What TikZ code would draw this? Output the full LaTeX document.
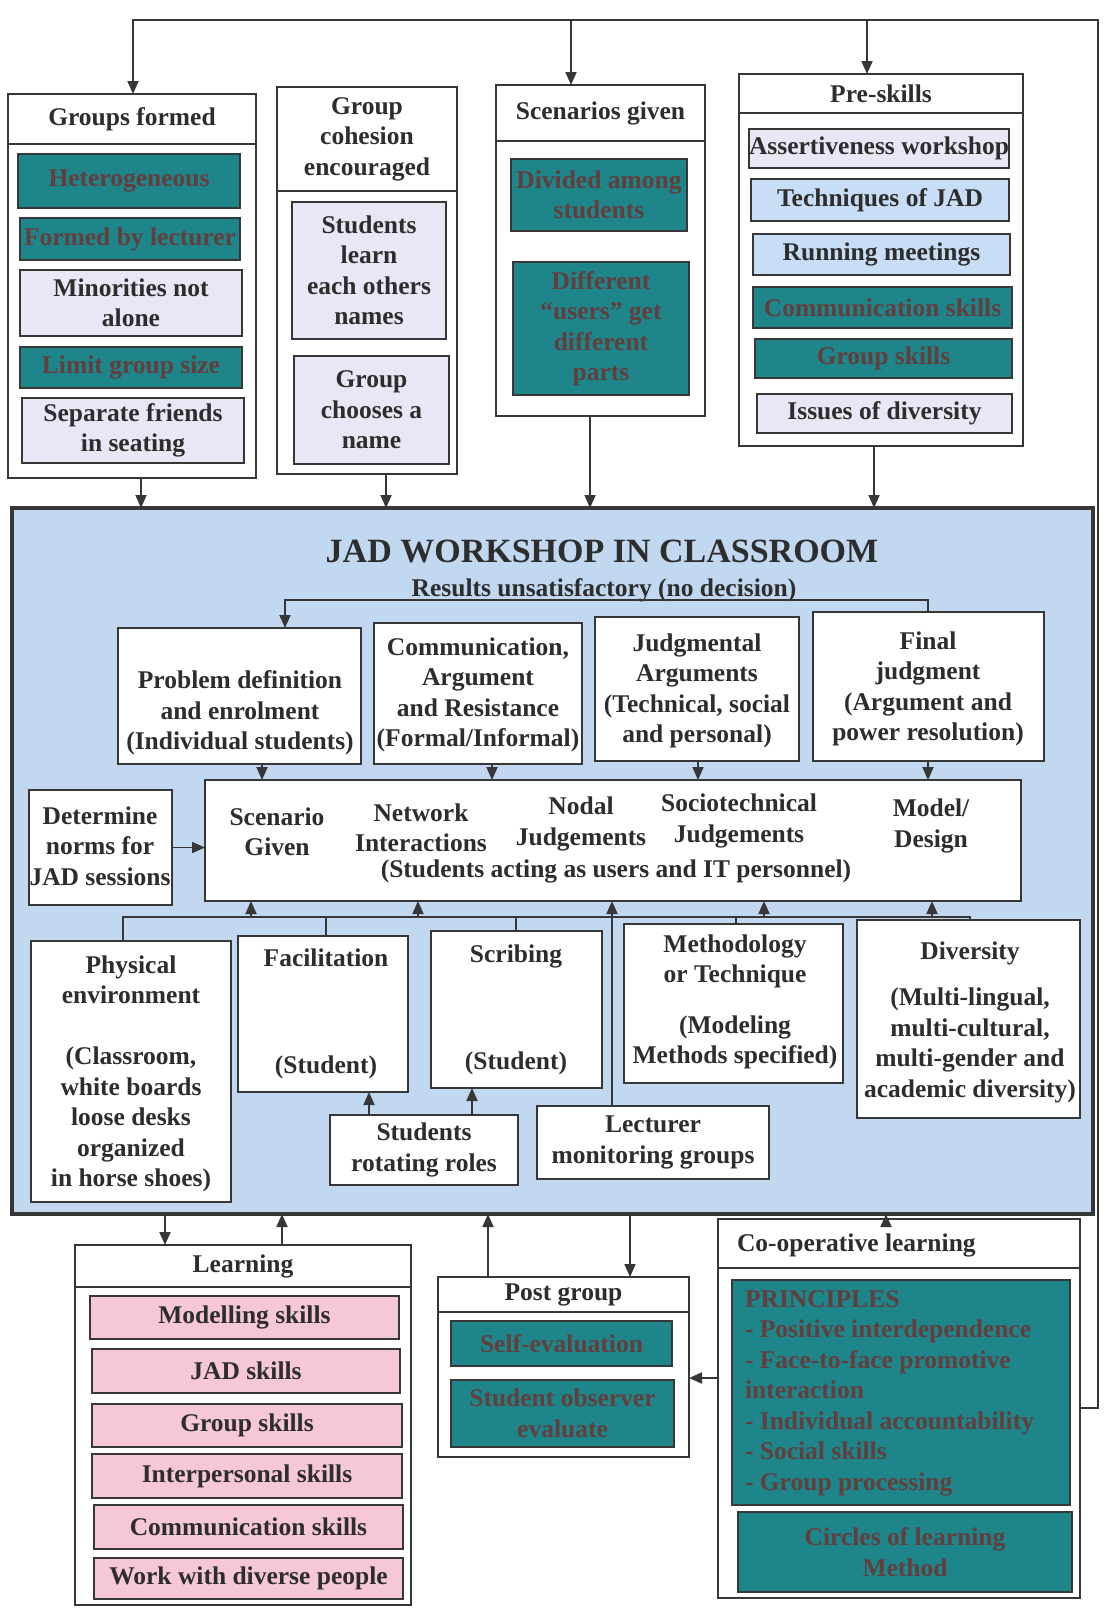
\documentclass[tikz,border=0pt]{standalone}
\usepackage{fontspec}
\setmainfont{Liberation Serif}
\usetikzlibrary{arrows.meta,fit}
\definecolor{lc}{RGB}{55,55,55}
\definecolor{txc}{RGB}{45,45,45}
\definecolor{tealf}{RGB}{30,133,138}
\definecolor{tealtx}{RGB}{98,62,60}
\definecolor{lavf}{RGB}{232,231,245}
\definecolor{bluef}{RGB}{200,222,246}
\definecolor{jadf}{RGB}{193,216,240}
\definecolor{pinkf}{RGB}{246,200,214}
\begin{document}
\begin{tikzpicture}[x=1pt,y=-1pt,
  every node/.style={inner sep=0pt, outer sep=0pt},
  font=\fontsize{25.5}{30.5}\selectfont\bfseries,
  box/.style={draw=lc, line width=1.8pt, fill=white},
  tbox/.style={box, fill=tealf},
  lbox/.style={box, fill=lavf},
  bbox/.style={box, fill=bluef},
  pbox/.style={box, fill=pinkf},
  txt/.style={align=center, text=txc},
  ttxt/.style={align=center, text=tealtx},
  arr/.style={draw=lc, line width=1.8pt, -{Triangle[length=13pt,width=11pt]}},
  ln/.style={draw=lc, line width=1.8pt}]

\path[use as bounding box, fill=white] (0,0) rectangle (1109,1609);

% ---------------- top row ----------------
\node[box, fit={(8,94) (256,144)}] (grH) {};
\node[box, fit={(8,144) (256,478)}] (grB) {};
\node[txt] (grT) at (grH) {Groups formed};
\node[tbox, fit={(18,154) (240,208)}] (gr1) {};
\node[ttxt] (gr1t) at (gr1) {Heterogeneous};
\node[tbox, fit={(20,218) (240,260)}] (gr2) {};
\node[ttxt] (gr2t) at (gr2) {Formed by lecturer};
\node[lbox, fit={(20,270) (242,336)}] (gr3) {};
\node[txt] (gr3t) at (gr3) {Minorities not\\alone};
\node[tbox, fit={(20,347) (242,388)}] (gr4) {};
\node[ttxt] (gr4t) at (gr4) {Limit group size};
\node[lbox, fit={(22,398) (244,463)}] (gr5) {};
\node[txt] (gr5t) at (gr5) {Separate friends\\in seating};

\node[box, fit={(277,87) (457,191)}] (chH) {};
\node[box, fit={(277,191) (457,474)}] (chB) {};
\node[txt] (chT) at (chH) {Group\\cohesion\\encouraged};
\node[lbox, fit={(292,202) (446,339)}] (ch1) {};
\node[txt] (ch1t) at (ch1) {Students\\learn\\each others\\names};
\node[lbox, fit={(294,356) (449,464)}] (ch2) {};
\node[txt] (ch2t) at (ch2) {Group\\chooses a\\name};

\node[box, fit={(496,85) (705,141)}] (scH) {};
\node[box, fit={(496,141) (705,416)}] (scB) {};
\node[txt] (scT) at (scH) {Scenarios given};
\node[tbox, fit={(511,159) (687,231)}] (sc1) {};
\node[ttxt] (sc1t) at (sc1) {Divided among\\students};
\node[tbox, fit={(513,262) (689,395)}] (sc2) {};
\node[ttxt] (sc2t) at (sc2) {Different\\“users” get\\different\\parts};

\node[box, fit={(739,74) (1023,113)}] (prH) {};
\node[box, fit={(739,113) (1023,446)}] (prB) {};
\node[txt] (prT) at (prH) {Pre-skills};
\node[lbox, fit={(749,129) (1009,168)}] (pr1) {};
\node[txt] (pr1t) at (pr1) {Assertiveness workshop};
\node[bbox, fit={(751,179) (1009,221)}] (pr2) {};
\node[txt] (pr2t) at (pr2) {Techniques of JAD};
\node[bbox, fit={(753,234) (1010,275)}] (pr3) {};
\node[txt] (pr3t) at (pr3) {Running meetings};
\node[tbox, fit={(753,287) (1012,328)}] (pr4) {};
\node[ttxt] (pr4t) at (pr4) {Communication skills};
\node[tbox, fit={(755,339) (1012,378)}] (pr5) {};
\node[ttxt] (pr5t) at (pr5) {Group skills};
\node[lbox, fit={(757,394) (1012,433)}] (pr6) {};
\node[txt] (pr6t) at (pr6) {Issues of diversity};

% ---------------- JAD workshop ----------------
\node[draw=lc, line width=4pt, fill=jadf, fit={(12,508) (1093,1214)}] (jad) {};
\node[txt, font=\fontsize{34}{40}\selectfont\bfseries] (jadT) at (602,551) {JAD WORKSHOP IN CLASSROOM};
\node[txt, anchor=base] (res) at (604,596) {Results unsatisfactory (no decision)};

\node[box, fit={(118,628) (361,764)}] (prob) {};
\node[txt] (probt) at (240,713) {Problem definition\\and enrolment\\(Individual students)};
\node[box, fit={(374,623) (582,764)}] (comm) {};
\node[txt] (commt) at (478,695) {Communication,\\Argument\\and Resistance\\(Formal/Informal)};
\node[box, fit={(595,617) (799,761)}] (judg) {};
\node[txt] (judgt) at (697,691) {Judgmental\\Arguments\\(Technical, social\\and personal)};
\node[box, fit={(813,612) (1044,761)}] (fin) {};
\node[txt] (fint) at (928,689) {Final\\judgment\\(Argument and\\power resolution)};

\node[box, fit={(29,790) (172,905)}] (norms) {};
\node[txt] (normst) at (100,846) {Determine\\norms for\\JAD sessions};

\node[box, fit={(205,780) (1021,901)}] (scen) {};
\node[txt] (scen1) at (277,832) {Scenario\\Given};
\node[txt] (scen2) at (421,828) {Network\\Interactions};
\node[txt] (scen3) at (581,824) {Nodal\\Judgements};
\node[txt] (scen4) at (739,821) {Sociotechnical\\Judgements};
\node[txt] (scen5) at (931,826) {Model/\\Design};
\node[txt] (scen6) at (616,871) {(Students acting as users and IT personnel)};

\node[box, fit={(31,941) (231,1202)}] (phys) {};
\node[txt] (physt) at (131,1074) {Physical\\environment\\[30.5pt](Classroom,\\white boards\\loose desks\\organized\\in horse shoes)};
\node[box, fit={(238,936) (408,1092)}] (fac) {};
\node[txt] (fact) at (326,1014) {Facilitation\\[76pt](Student)};
\node[box, fit={(431,931) (602,1088)}] (scr) {};
\node[txt] (scrt) at (516,1010) {Scribing\\[77pt](Student)};
\node[box, fit={(624,924) (843,1083)}] (meth) {};
\node[txt] (metht) at (735,1002) {Methodology\\or Technique\\[20pt](Modeling\\Methods specified)};
\node[box, fit={(857,920) (1080,1118)}] (div) {};
\node[txt] (divt) at (970,1022) {Diversity\\[16pt](Multi-lingual,\\multi-cultural,\\multi-gender and\\academic diversity)};
\node[box, fit={(330,1115) (518,1185)}] (rot) {};
\node[txt] (rott) at (rot) {Students\\rotating roles};
\node[box, fit={(537,1106) (769,1179)}] (lect) {};
\node[txt] (lectt) at (lect) {Lecturer\\monitoring groups};

% connectors inside JAD
\coordinate (lpR) at (928,600);
\coordinate (lpL) at (285,600);
\draw[arr] (lpR |- fin.north) -- (lpR) -- (lpL) -- (lpL |- prob.north);
\coordinate (a1) at (262,0);
\coordinate (a2) at (492,0);
\coordinate (a3) at (698,0);
\coordinate (a4) at (928,0);
\draw[arr] (a1 |- prob.south) -- (a1 |- scen.north);
\draw[arr] (a2 |- comm.south) -- (a2 |- scen.north);
\draw[arr] (a3 |- judg.south) -- (a3 |- scen.north);
\draw[arr] (a4 |- fin.south) -- (a4 |- scen.north);
\draw[arr] (norms.east) -- (scen.west |- norms.east);

\coordinate (bus1) at (123,917);
\coordinate (bus2) at (970,917);
\draw[ln] (bus1 |- phys.north) -- (bus1) -- (bus2) -- (bus2 |- div.north);
\coordinate (s2) at (326,917);
\coordinate (s3) at (516,917);
\coordinate (s4) at (736,917);
\draw[ln] (s2) -- (s2 |- fac.north);
\draw[ln] (s3) -- (s3 |- scr.north);
\draw[ln] (s4) -- (s4 |- meth.north);
\coordinate (u1) at (251,917);
\coordinate (u2) at (418,917);
\coordinate (u3) at (764,917);
\coordinate (u4) at (932,917);
\draw[arr] (u1) -- (u1 |- scen.south);
\draw[arr] (u2) -- (u2 |- scen.south);
\draw[arr] (u3) -- (u3 |- scen.south);
\draw[arr] (u4) -- (u4 |- scen.south);
\coordinate (lx) at (612,0);
\draw[arr] (lx |- lect.north) -- (lx |- scen.south);
\coordinate (rx1) at (369,0);
\coordinate (rx2) at (472,0);
\draw[arr] (rx1 |- rot.north) -- (rx1 |- fac.south);
\draw[arr] (rx2 |- rot.north) -- (rx2 |- scr.south);

% top row into JAD
\coordinate (d1) at (141,0);
\coordinate (d2) at (386,0);
\coordinate (d3) at (590,0);
\coordinate (d4) at (874,0);
\draw[arr] (d1 |- grB.south) -- (d1 |- jad.north);
\draw[arr] (d2 |- chB.south) -- (d2 |- jad.north);
\draw[arr] (d3 |- scB.south) -- (d3 |- jad.north);
\draw[arr] (d4 |- prB.south) -- (d4 |- jad.north);

% ---------------- bottom row ----------------
\node[box, fit={(75,1245) (411,1287)}] (leH) {};
\node[box, fit={(75,1287) (411,1605)}] (leB) {};
\node[txt] (leT) at (leH) {Learning};
\node[pbox, fit={(90,1296) (399,1339)}] (le1) {};
\node[txt] (le1t) at (le1) {Modelling skills};
\node[pbox, fit={(92,1349) (400,1393)}] (le2) {};
\node[txt] (le2t) at (le2) {JAD skills};
\node[pbox, fit={(92,1404) (402,1447)}] (le3) {};
\node[txt] (le3t) at (le3) {Group skills};
\node[pbox, fit={(92,1454) (402,1498)}] (le4) {};
\node[txt] (le4t) at (le4) {Interpersonal skills};
\node[pbox, fit={(94,1505) (403,1549)}] (le5) {};
\node[txt] (le5t) at (le5) {Communication skills};
\node[pbox, fit={(94,1558) (403,1599)}] (le6) {};
\node[txt] (le6t) at (le6) {Work with diverse people};

\node[box, fit={(438,1277) (689,1312)}] (poH) {};
\node[box, fit={(438,1312) (689,1457)}] (poB) {};
\node[txt] (poT) at (poH) {Post group};
\node[tbox, fit={(451,1321) (672,1366)}] (po1) {};
\node[ttxt] (po1t) at (po1) {Self-evaluation};
\node[tbox, fit={(451,1380) (674,1447)}] (po2) {};
\node[ttxt] (po2t) at (po2) {Student observer\\evaluate};

\node[box, fit={(718,1219) (1080,1268)}] (cpH) {};
\node[box, fit={(718,1268) (1080,1598)}] (cpB) {};
\node[txt, anchor=west] (cpT) at (737,1245) {Co-operative learning};
\node[tbox, fit={(732,1280) (1070,1505)}] (cp1) {};
\node[ttxt, align=left, anchor=west] (cp1t) at (745,1393) {PRINCIPLES\\- Positive interdependence\\- Face-to-face promotive\\interaction\\- Individual accountability\\- Social skills\\- Group processing};
\node[tbox, fit={(738,1512) (1072,1592)}] (cp2) {};
\node[ttxt] (cp2t) at (cp2) {Circles of learning\\Method};

\coordinate (b1) at (165,0);
\coordinate (b2) at (282,0);
\coordinate (b3) at (488,0);
\coordinate (b4) at (630,0);
\coordinate (b5) at (886,0);
\draw[arr] (b1 |- jad.south) -- (b1 |- leH.north);
\draw[arr] (b2 |- leH.north) -- (b2 |- jad.south);
\draw[arr] (b3 |- poH.north) -- (b3 |- jad.south);
\draw[arr] (b4 |- jad.south) -- (b4 |- poH.north);
\draw[arr] (b5 |- cpH.north) -- (b5 |- jad.south);
\coordinate (cy) at (0,1378);
\draw[arr] (cy -| cpB.west) -- (cy -| poB.east);

% outer feedback loop
\coordinate (tl) at (133,20);
\coordinate (tm) at (571,20);
\coordinate (tp) at (867,20);
\coordinate (tr) at (1098,20);
\coordinate (br) at (1098,1408);
\draw[arr] (br -| cpB.east) -- (br) -- (tr) -- (tl) -- (tl |- grH.north);
\draw[arr] (tm) -- (tm |- scH.north);
\draw[arr] (tp) -- (tp |- prH.north);
\end{tikzpicture}
\end{document}
